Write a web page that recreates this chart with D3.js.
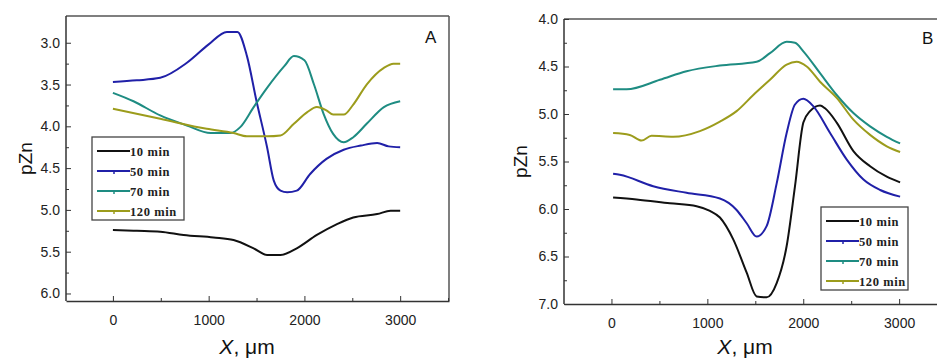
<!DOCTYPE html>
<html>
<head>
<meta charset="UTF-8">
<title>pZn profiles</title>
<script src="https://cdn.jsdelivr.net/npm/d3@7"></script>
<style>
  * { margin: 0; padding: 0; }
  body { background: #fff; width: 937px; height: 358px; overflow: hidden; }
  svg { display: block; font-family: Arial, "Liberation Sans", sans-serif; }
</style>
</head>
<body>
<svg id="chart" width="937" height="358"></svg>
<script>
// series names and colours
const seriesNames = ['10 min', '50 min', '70 min', '120 min'];
const seriesColors = ['#111111', '#2020a8', '#1e8c82', '#9c9c1c'];

// panel A: [x µm, pZn]
const a10 = [[0,5.24],[250,5.25],[494,5.26],[738,5.30],[1050,5.33],[1260,5.36],[1470,5.46],[1610,5.54],[1750,5.54],[1920,5.46],[2130,5.30],[2340,5.17],[2510,5.09],[2760,5.05],[2900,5.01],[3000,5.01]];
const a50 = [[0,3.47],[250,3.45],[494,3.42],[773,3.24],[1000,3.02],[1190,2.87],[1300,2.87],[1400,3.16],[1500,3.70],[1610,4.25],[1680,4.65],[1750,4.77],[1820,4.79],[1920,4.77],[2060,4.57],[2230,4.39],[2410,4.28],[2590,4.23],[2760,4.20],[2880,4.24],[3000,4.25]];
const a70 = [[0,3.60],[215,3.70],[494,3.87],[773,3.99],[1020,4.08],[1230,4.08],[1330,4.01],[1470,3.77],[1610,3.54],[1790,3.28],[1890,3.16],[2000,3.21],[2100,3.50],[2200,3.85],[2300,4.09],[2410,4.19],[2510,4.13],[2650,3.97],[2830,3.77],[3000,3.70]];
const a120 = [[0,3.79],[494,3.91],[980,4.03],[1260,4.08],[1400,4.12],[1610,4.12],[1750,4.11],[1890,3.97],[2030,3.83],[2130,3.77],[2230,3.81],[2300,3.86],[2410,3.86],[2510,3.74],[2650,3.50],[2830,3.30],[2930,3.25],[3000,3.25]];

// panel B: [x µm, pZn]
const b10 = [[17,5.88],[261,5.90],[609,5.94],[888,5.97],[1027,6.02],[1131,6.09],[1270,6.32],[1410,6.67],[1514,6.92],[1618,6.93],[1723,6.78],[1827,6.39],[1914,5.76],[2001,5.09],[2071,4.97],[2175,4.91],[2227,4.94],[2349,5.09],[2523,5.39],[2697,5.55],[2871,5.66],[3010,5.72]];
const b50 = [[17,5.63],[87,5.64],[435,5.76],[783,5.83],[1131,5.89],[1305,6.01],[1410,6.15],[1514,6.29],[1618,6.18],[1723,5.73],[1827,5.20],[1914,4.90],[2001,4.84],[2106,4.92],[2280,5.20],[2454,5.48],[2628,5.69],[2802,5.80],[3010,5.87]];
const b70 = [[17,4.74],[157,4.74],[505,4.64],[783,4.55],[1131,4.49],[1514,4.45],[1653,4.36],[1827,4.24],[1914,4.25],[2001,4.34],[2175,4.57],[2349,4.80],[2523,4.99],[2697,5.13],[2871,5.24],[3010,5.31]];
const b120 = [[17,5.20],[191,5.22],[313,5.28],[418,5.23],[644,5.24],[922,5.18],[1131,5.08],[1305,4.97],[1479,4.80],[1653,4.64],[1827,4.48],[1931,4.45],[2036,4.50],[2175,4.66],[2349,4.83],[2523,5.06],[2697,5.22],[2871,5.34],[3010,5.40]];

const xTicks = [0, 1000, 2000, 3000];
const yTicksA = [3.0, 3.5, 4.0, 4.5, 5.0, 5.5, 6.0];
const yTicksB = [4.0, 4.5, 5.0, 5.5, 6.0, 6.5, 7.0];

const svg = d3.select('#chart');

function panel(opt) {
  const g = svg.append('g');
  const x = d3.scaleLinear().domain(opt.xDomain).range([opt.left, opt.right]);
  const y = d3.scaleLinear().domain(opt.yDomain).range([opt.top, opt.bottom]);

  const clipId = 'clip' + opt.label;
  g.append('clipPath').attr('id', clipId).append('rect')
    .attr('x', opt.left).attr('y', opt.top)
    .attr('width', opt.right - opt.left).attr('height', opt.bottom - opt.top);

  // frame
  const frame = '#555';
  g.append('line').attr('x1', opt.left).attr('x2', opt.right).attr('y1', opt.top).attr('y2', opt.top).attr('stroke', frame).attr('stroke-width', 1.5);
  if (opt.rightBorder) {
    g.append('line').attr('x1', opt.right).attr('x2', opt.right).attr('y1', opt.top).attr('y2', opt.bottom).attr('stroke', frame).attr('stroke-width', 1.5);
  }

  // bottom axis, ticks inside
  const xAxis = d3.axisBottom(x).tickValues(xTicks).tickSizeInner(-5).tickSizeOuter(0).tickPadding(14).tickFormat(d3.format('d'));
  const xg = g.append('g').attr('transform', `translate(0,${opt.bottom})`).call(xAxis);
  xg.select('.domain').attr('stroke', '#333').attr('stroke-width', 1.5);
  xg.selectAll('.tick line').attr('stroke', '#333');
  xg.selectAll('text').attr('font-size', 14).attr('fill', '#222');
  const xMinor = d3.axisBottom(x).tickValues([500, 1500, 2500, -500, 3500].filter(v => v > opt.xDomain[0] && v < opt.xDomain[1])).tickSize(-3).tickFormat('');
  const xmg = g.append('g').attr('transform', `translate(0,${opt.bottom})`).call(xMinor);
  xmg.select('.domain').remove();
  xmg.selectAll('line').attr('stroke', '#333');

  // left axis, ticks inside
  const yAxis = d3.axisLeft(y).tickValues(opt.yTicks).tickSizeInner(-5).tickSizeOuter(0).tickPadding(6).tickFormat(d3.format('.1f'));
  const yg = g.append('g').attr('transform', `translate(${opt.left},0)`).call(yAxis);
  yg.select('.domain').attr('stroke', '#333').attr('stroke-width', 1.5)
    .attr('d', `M0,${opt.top}V${opt.bottom}`);
  yg.selectAll('.tick line').attr('stroke', '#333');
  yg.selectAll('text').attr('font-size', 14).attr('fill', '#222');
  const yMinorVals = opt.yTicks.slice(0, -1).map(v => v + 0.25);
  const ymg = g.append('g').attr('transform', `translate(${opt.left},0)`).call(d3.axisLeft(y).tickValues(yMinorVals).tickSize(-3).tickFormat(''));
  ymg.select('.domain').remove();
  ymg.selectAll('line').attr('stroke', '#333');

  // curves
  const line = d3.line().x(d => x(d[0])).y(d => y(d[1])).curve(d3.curveMonotoneX);
  const cg = g.append('g').attr('clip-path', `url(#${clipId})`);
  opt.series.forEach((s, i) => {
    cg.append('path').datum(s).attr('d', line)
      .attr('fill', 'none').attr('stroke', seriesColors[i]).attr('stroke-width', 2)
      .attr('stroke-linejoin', 'round');
  });

  // titles
  g.append('text').attr('transform', `translate(${opt.yTitleX},${(opt.top + opt.bottom) / 2}) rotate(-90)`)
    .attr('text-anchor', 'middle').attr('font-size', 19).attr('fill', '#111').text('pZn');
  const xt = g.append('text').attr('x', opt.xTitleX).attr('y', 354)
    .attr('text-anchor', 'middle').attr('font-size', 21).attr('fill', '#111');
  xt.append('tspan').attr('font-style', 'italic').text('X');
  xt.append('tspan').text(', μm');

  g.append('text').attr('x', opt.labelX).attr('y', opt.labelY)
    .attr('font-size', 17).attr('fill', '#111').text(opt.label);

  // legend
  const lg = g.append('g').attr('transform', `translate(${opt.legX},${opt.legY})`);
  lg.append('rect').attr('width', opt.legW).attr('height', 83)
    .attr('fill', '#fff').attr('stroke', '#444').attr('stroke-width', 1.3);
  seriesNames.forEach((n, i) => {
    const yy = 14 + i * 20;
    lg.append('line').attr('x1', 5).attr('x2', 38).attr('y1', yy).attr('y2', yy)
      .attr('stroke', seriesColors[i]).attr('stroke-width', 2);
    if (i > 0) {
      lg.append('line').attr('x1', 22).attr('x2', 22).attr('y1', yy).attr('y2', yy + 3)
        .attr('stroke', seriesColors[i]).attr('stroke-width', 1.5);
    }
    lg.append('text').attr('x', 38).attr('y', yy + 4.5)
      .attr('font-family', '"Liberation Serif", "DejaVu Serif", serif')
      .attr('font-weight', 'bold').attr('font-size', 12.5).attr('fill', '#222')
      .attr('letter-spacing', 0.6).text(n);
  });
}

panel({
  label: 'A', left: 66, right: 449, top: 16, bottom: 301,
  xDomain: [-490, 3510], yDomain: [2.68, 6.09], yTicks: yTicksA,
  series: [a10, a50, a70, a120], rightBorder: true,
  yTitleX: 32, xTitleX: 247, labelX: 425, labelY: 43,
  legX: 92, legY: 137, legW: 92
});

panel({
  label: 'B', left: 564, right: 949, top: 19, bottom: 304,
  xDomain: [-495, 3520], yDomain: [4.0, 7.0], yTicks: yTicksB,
  series: [b10, b50, b70, b120], rightBorder: false,
  yTitleX: 527, xTitleX: 745, labelX: 922, labelY: 44,
  legX: 821, legY: 207, legW: 87
});
</script>
</body>
</html>
